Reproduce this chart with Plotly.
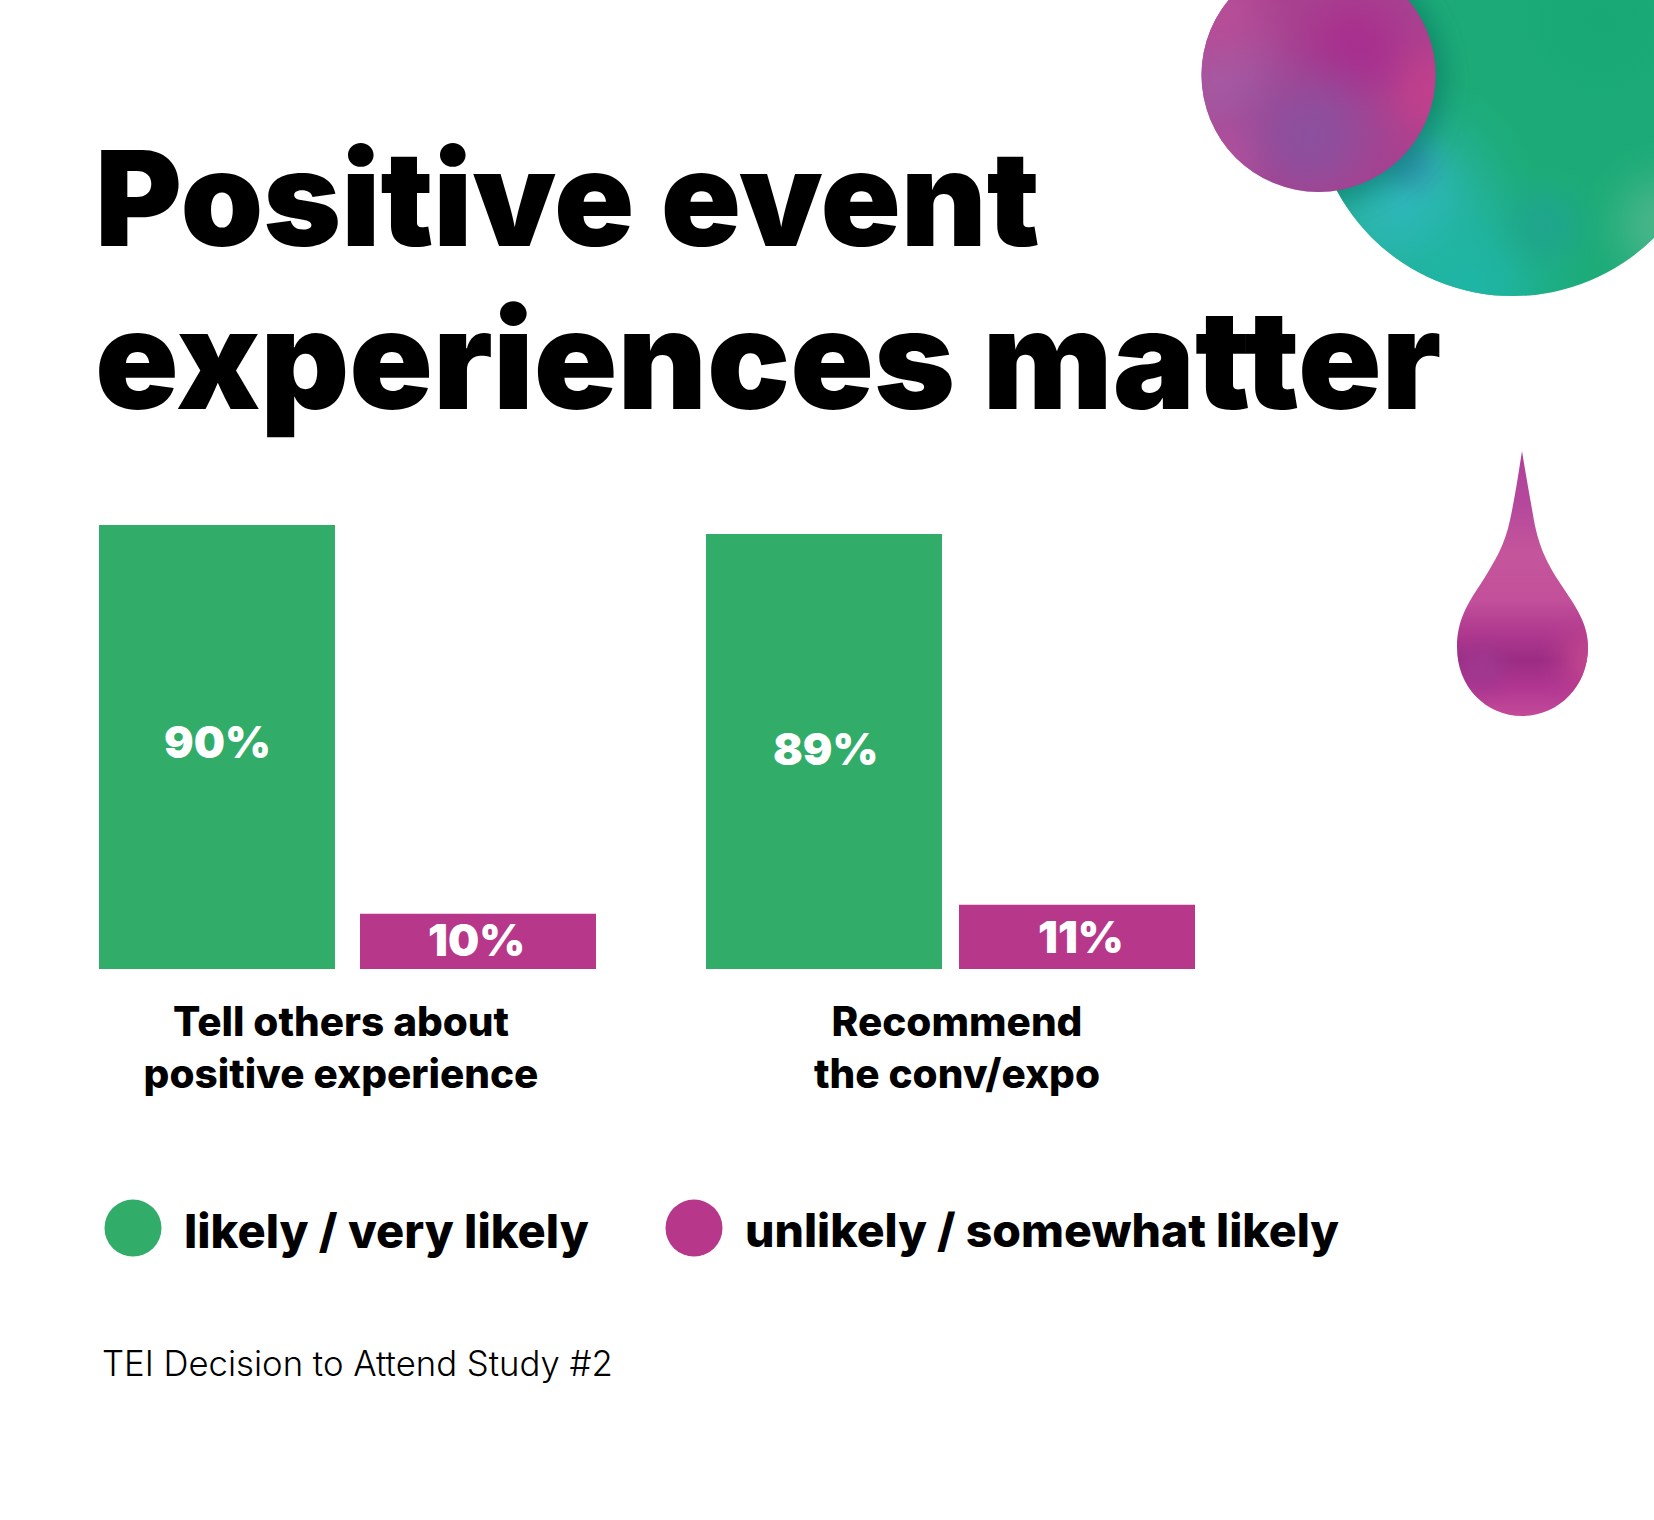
import base64
import plotly.graph_objects as go

W = 1654
H = 1520

# data
group_labels = ["Tell others about<br>positive experience", "Recommend<br>the conv/expo"]
likely_heights = [90, 88.2]
unlikely_heights = [11.2, 13]
likely_labels = ["90%", "89%"]
unlikely_labels = ["10%", "11%"]
legend_labels = ["likely / very likely", "unlikely / somewhat likely"]
title_lines = ["Positive event", "experiences matter"]
source_text = "TEI Decision to Attend Study #2"

GREEN = "#31AD69"
PURPLE = "#B7378B"
FONT = "Inter"


def px_x(x):
    return x / W


def px_y(y):
    return 1 - y / H


def radial(name, cx, cy, r, color):
    return (f'<radialGradient id="{name}" gradientUnits="userSpaceOnUse" cx="{cx}" cy="{cy}" r="{r}">'
            f'<stop offset="0" stop-color="{color}" stop-opacity="1"/>'
            f'<stop offset="0.3" stop-color="{color}" stop-opacity="0.78"/>'
            f'<stop offset="0.6" stop-color="{color}" stop-opacity="0.32"/>'
            f'<stop offset="0.8" stop-color="{color}" stop-opacity="0.1"/>'
            f'<stop offset="1" stop-color="{color}" stop-opacity="0"/></radialGradient>')


# the blobs are decoration, the gradients need an svg picture
green_spots = [("g1", 1405, 205, 135, "#2FB8BC"), ("g2", 1470, 285, 130, "#1FB5A6"),
               ("g3", 1412, 165, 45, "#2F9DB0"), ("g4", 1665, 225, 85, "#4AB68A"),
               ("g5", 1600, 20, 120, "#17A876"), ("g6", 1545, 225, 60, "#1FA58C")]
purple_spots = [("p2", 1222, 80, 100, "#A45AA2"), ("p5", 1215, 10, 85, "#B84E98"),
                ("p6", 1235, 155, 60, "#B2509C"), ("p4", 1430, 90, 80, "#C0408C"),
                ("p3", 1355, 50, 80, "#A82E8E"), ("p1", 1310, 135, 105, "#8B509E")]

defs = "".join(radial(*s) for s in green_spots + purple_spots)
defs += radial("d1", 1482, 668, 38, "#A03890")
defs += radial("d2", 1592, 660, 55, "#C2458F")
defs += ('<linearGradient id="drop" x1="0" y1="0" x2="0" y2="1">'
         '<stop offset="0" stop-color="#B23F9A"/><stop offset="0.2" stop-color="#B4489C"/>'
         '<stop offset="0.38" stop-color="#C4559B"/><stop offset="0.56" stop-color="#C2509A"/>'
         '<stop offset="0.68" stop-color="#B03A90"/><stop offset="0.79" stop-color="#9B2C83"/>'
         '<stop offset="0.88" stop-color="#AE3490"/><stop offset="1" stop-color="#C34A98"/>'
         '</linearGradient>')
defs += '<filter id="soft" x="-30%" y="-30%" width="160%" height="160%"><feGaussianBlur stdDeviation="14"/></filter>'
defs += '<clipPath id="cg"><circle cx="1513" cy="96" r="200"/></clipPath>'

green_svg = '<circle cx="1513" cy="96" r="200" fill="#1CAB78"/>'
green_svg += "".join(f'<circle cx="1513" cy="96" r="200" fill="url(#{s[0]})"/>' for s in green_spots)
green_svg += '<g clip-path="url(#cg)"><circle cx="1322" cy="80" r="122" fill="#0A5F5A" fill-opacity="0.5" filter="url(#soft)"/></g>'
purple_svg = '<circle cx="1318.5" cy="75" r="117" fill="#A8408F"/>'
purple_svg += "".join(f'<circle cx="1318.5" cy="75" r="117" fill="url(#{s[0]})"/>' for s in purple_spots)
drop_path = ("M1522,451 C1519,470 1516,492 1510,520 C1505,545 1494,563 1480,585 "
             "C1468,603 1457,620 1457,647 C1457,687 1486,716 1522,716 "
             "C1558,716 1588,687 1588,647 C1588,620 1572,602 1558,580 "
             "C1546,561 1538,545 1533,515 C1529,492 1525,470 1522,451 Z")
drop_svg = (f'<path d="{drop_path}" fill="url(#drop)"/><path d="{drop_path}" fill="url(#d1)"/>'
            f'<path d="{drop_path}" fill="url(#d2)"/>')

svg = (f'<svg xmlns="http://www.w3.org/2000/svg" width="{W}" height="{H}" viewBox="0 0 {W} {H}">'
       f'<defs>{defs}</defs>{green_svg}{purple_svg}{drop_svg}</svg>')
svg_uri = "data:image/svg+xml;base64," + base64.b64encode(svg.encode()).decode()

# bar slots in page pixels
likely_x = [217, 824]
unlikely_x = [478, 1077]
BAR_WIDTH = 236

fig = go.Figure()
fig.add_trace(go.Bar(x=likely_x, y=likely_heights, width=BAR_WIDTH, name=legend_labels[0],
                     marker=dict(color=GREEN, line=dict(width=0))))
fig.add_trace(go.Bar(x=unlikely_x, y=unlikely_heights, width=BAR_WIDTH, name=legend_labels[1],
                     marker=dict(color=PURPLE, line=dict(width=0))))

# the value labels sit by hand in the original, not exactly in the middle of the bars
label_nudges = [(0, 5), (2, 2), (-2, 1), (4, 0)]
bar_labels = list(zip(likely_x + unlikely_x, likely_heights + unlikely_heights,
                      likely_labels + unlikely_labels, label_nudges))
for x, h, label, (dx, dy) in bar_labels:
    fig.add_annotation(text=label, x=x, y=h / 2, xref="x", yref="y", showarrow=False,
                       xshift=dx, yshift=dy, xanchor="center", yanchor="middle",
                       font=dict(family=FONT, size=44, color="white", weight=900))


def add_text(text, x, y, size, weight=700, anchor="left", color="black"):
    fig.add_annotation(text=text, x=px_x(x), y=px_y(y), xref="paper", yref="paper",
                       xanchor=anchor, yanchor="middle", showarrow=False,
                       font=dict(family=FONT, size=size, color=color, weight=weight))


add_text(title_lines[0], 93, 198, 132.5, weight=900)
add_text(title_lines[1], 93, 358, 138, weight=900)
add_text(legend_labels[0], 182, 1230, 47, weight=800)
add_text(legend_labels[1], 743, 1230, 46.4, weight=800)
add_text(source_text, 100, 1363, 34.7, weight=300)

for cx, color in [(133, GREEN), (694, PURPLE)]:
    fig.add_shape(type="circle", xref="paper", yref="paper", line_width=0, fillcolor=color,
                  x0=px_x(cx - 28.5), x1=px_x(cx + 28.5), y0=px_y(1228 + 28.5), y1=px_y(1228 - 28.5))

fig.add_layout_image(source=svg_uri, xref="paper", yref="paper", x=0, y=1, sizex=1, sizey=1,
                     xanchor="left", yanchor="top", sizing="stretch", layer="below")

fig.update_layout(
    width=W, height=H, margin=dict(l=0, r=0, t=0, b=0), showlegend=False,
    paper_bgcolor="white", plot_bgcolor="rgba(0,0,0,0)", barmode="overlay",
    xaxis=dict(range=[0, W], domain=[0, 1], showgrid=False, zeroline=False, showline=False,
               tickmode="array", tickvals=[341, 957], ticktext=group_labels, ticks="outside",
               ticklen=17, tickcolor="rgba(0,0,0,0)",
               tickfont=dict(family=FONT, size=40.5, color="black", weight=800)),
    yaxis=dict(range=[0, 90], domain=[px_y(969), px_y(525)], visible=False),
)

fig.write_html("out.html", config={"displayModeBar": False},
               post_script="document.body.style.margin='0';")
